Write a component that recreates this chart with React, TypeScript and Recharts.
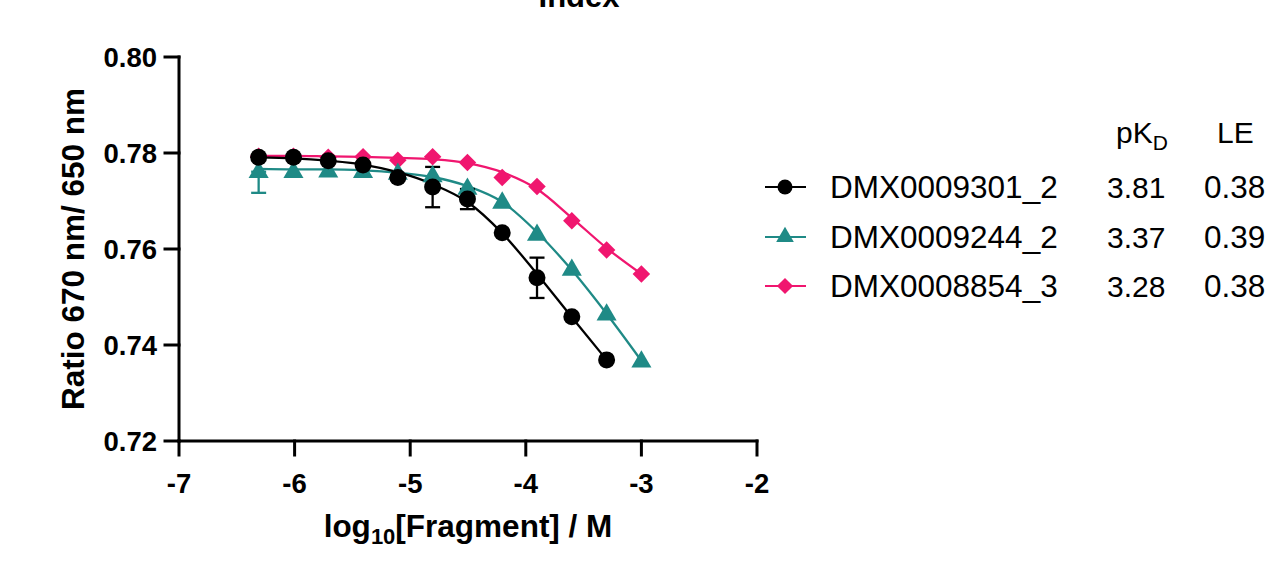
import React from 'react';
import { LineChart, Line, XAxis, YAxis, ErrorBar, Legend } from 'recharts';

// log10 of the fragment concentration (2-fold dilution from 1 mM)
const logConc = [-6.311, -6.01, -5.709, -5.408, -5.107, -4.806, -4.505, -4.204, -3.903, -3.602, -3.301, -3.0];

const seriesNames = ['DMX0009301_2', 'DMX0009244_2', 'DMX0008854_3'];
const pKdValues = ['3.81', '3.37', '3.28'];
const leValues = ['0.38', '0.39', '0.38'];

// measured points
const dmx9301 = [0.7791, 0.7791, 0.7784, 0.7775, 0.7749, 0.7729, 0.7704, 0.7634, 0.754, 0.7459, 0.7369, null];
const dmx9244 = [0.776, 0.776, 0.7761, 0.776, 0.7756, 0.7751, 0.7725, 0.7696, 0.7629, 0.7556, 0.7463, 0.7365];
const dmx8854 = [0.7793, 0.7793, 0.7791, 0.7792, 0.7785, 0.7792, 0.778, 0.7749, 0.773, 0.7659, 0.7598, 0.7548];

// error bars ([low, high] or single value)
const dmx9301Err = [null, null, null, null, null, 0.0042, 0.0021, null, 0.0042, null, null, null];
const dmx9244Err = [[0.0043, 0.0001], null, null, null, null, null, null, null, null, null, null, null];

// fitted curves
const dmx9301Fit = [0.7791, 0.7789, 0.7784, 0.7776, 0.776, 0.7735, 0.7698, 0.7633, 0.7548, 0.7458, 0.7369, null];
const dmx9244Fit = [0.7767, 0.7766, 0.7766, 0.7764, 0.7759, 0.775, 0.7731, 0.7698, 0.7635, 0.7556, 0.7465, 0.7367];
const dmx8854Fit = [0.7794, 0.7794, 0.7793, 0.7792, 0.779, 0.7787, 0.7779, 0.776, 0.7725, 0.7665, 0.7602, 0.7548];

const xTicks = [-7, -6, -5, -4, -3, -2];
const yTicks = [0.72, 0.74, 0.76, 0.78, 0.8];

const BLACK = '#000000';
const TEAL = '#1f8a86';
const PINK = '#f0166f';
const FONT = '"Liberation Sans", Arial, sans-serif';

const rows = logConc.map((x, i) => ({
  x,
  b: dmx9301[i],
  bErr: dmx9301Err[i],
  bFit: dmx9301Fit[i],
  t: dmx9244[i],
  tErr: dmx9244Err[i],
  tFit: dmx9244Fit[i],
  p: dmx8854[i],
  pFit: dmx8854Fit[i],
}));

const circleShape = (cx: number, cy: number, color: string, r = 8.5) => (
  <circle cx={cx} cy={cy} r={r} fill={color} />
);
const triangleShape = (cx: number, cy: number, color: string, s = 1.08) => (
  <polygon
    points={`${cx},${cy - 10.7 * s} ${cx + 9.3 * s},${cy + 5.3 * s} ${cx - 9.3 * s},${cy + 5.3 * s}`}
    fill={color}
  />
);
const diamondShape = (cx: number, cy: number, color: string, s = 1.03) => (
  <polygon
    points={`${cx},${cy - 8.5 * s} ${cx + 8.5 * s},${cy} ${cx},${cy + 8.5 * s} ${cx - 8.5 * s},${cy}`}
    fill={color}
  />
);

const makeDot = (kind: 'circle' | 'triangle' | 'diamond', color: string) => (props: any) => {
  const { cx, cy, index, value } = props;
  if (cx == null || cy == null || value == null || isNaN(cy)) return <g key={`d-${index}`} />;
  const shape =
    kind === 'circle' ? circleShape(cx, cy, color) : kind === 'triangle' ? triangleShape(cx, cy, color) : diamondShape(cx, cy, color);
  return <g key={`d-${index}`}>{shape}</g>;
};

const legendShapes = [
  (cx: number, cy: number) => circleShape(cx, cy, BLACK, 7.5),
  (cx: number, cy: number) => triangleShape(cx, cy, TEAL, 0.95),
  (cx: number, cy: number) => diamondShape(cx, cy, PINK, 0.95),
];
const legendColors = [BLACK, TEAL, PINK];

const LEG_LEFT = 740;
const LEG_TOP = 100;

function StatsLegend() {
  const rowY = [187, 237, 286];
  const ox = LEG_LEFT;
  const oy = LEG_TOP;
  return (
    <svg width={539} height={220} style={{ fontFamily: FONT, overflow: 'visible' }}>
      <text x={1116 - ox} y={143 - oy} fontSize={30} fill="#000">
        pK<tspan fontSize={21} dy={7}>D</tspan>
      </text>
      <text x={1217 - ox} y={143 - oy} fontSize={30} fill="#000">
        LE
      </text>
      {seriesNames.map((name, i) => {
        const cy = rowY[i] - oy;
        return (
          <g key={name}>
            <line x1={765 - ox} x2={806 - ox} y1={cy} y2={cy} stroke={legendColors[i]} strokeWidth={2} />
            {legendShapes[i](785 - ox, cy)}
            <text x={830 - ox} y={cy + 11} fontSize={31.5} fill="#000">
              {name}
            </text>
            <text x={1107 - ox} y={cy + 11} fontSize={30} fill="#000">
              {pKdValues[i]}
            </text>
            <text x={1204 - ox} y={cy + 11} fontSize={31.5} fill="#000">
              {leValues[i]}
            </text>
          </g>
        );
      })}
    </svg>
  );
}

const XTitle = (props: any) => {
  const { viewBox } = props;
  const cx = viewBox.x + viewBox.width / 2;
  return (
    <text x={cx} y={537} textAnchor="middle" fontSize={31.5} fontWeight="bold" fill="#000" fontFamily={FONT}>
      log<tspan fontSize={22} dy={7}>10</tspan>
      <tspan dy={-7}>[Fragment] / M</tspan>
    </text>
  );
};

const YTitle = (props: any) => {
  const { viewBox } = props;
  const cy = viewBox.y + viewBox.height / 2;
  return (
    <text
      x={84}
      y={cy}
      transform={`rotate(-90 84 ${cy})`}
      textAnchor="middle"
      fontSize={31.5}
      fontWeight="bold"
      fill="#000"
      fontFamily={FONT}
    >
      Ratio 670 nm/ 650 nm
    </text>
  );
};

export default function App() {
  const axisStyle = { stroke: '#000', strokeWidth: 3, strokeLinecap: 'square' as const };
  const tickStyle = { fontSize: 27.5, fontWeight: 'bold', fill: '#000', fontFamily: FONT };
  return (
    <div style={{ position: 'absolute', left: 0, top: 0, width: 1279, height: 585, background: '#fff', fontFamily: FONT }}>
      <svg width={1279} height={60} style={{ position: 'absolute', left: 0, top: 0, zIndex: 2, pointerEvents: 'none' }}>
        <text x={579} y={7} textAnchor="middle" fontSize={31} fontWeight="bold" fill="#000" fontFamily={FONT}>
          Index
        </text>
      </svg>
      <LineChart width={1279} height={585} data={rows} margin={{ top: 57, right: 522, bottom: 44, left: 0 }}>
        <XAxis
          dataKey="x"
          type="number"
          domain={[-7, -2]}
          ticks={xTicks}
          tickFormatter={(v) => String(v)}
          axisLine={axisStyle}
          tickLine={axisStyle}
          tickSize={14}
          tickMargin={18}
          tick={tickStyle}
          height={100}
          label={<XTitle />}
        />
        <YAxis
          type="number"
          domain={[0.72, 0.8]}
          ticks={yTicks}
          tickFormatter={(v) => v.toFixed(2)}
          axisLine={axisStyle}
          tickLine={axisStyle}
          tickSize={14}
          tickMargin={8}
          tick={tickStyle}
          width={179}
          label={<YTitle />}
        />
        <Line dataKey="pFit" stroke={PINK} strokeWidth={2.3} type="monotone" dot={false} activeDot={false} isAnimationActive={false} legendType="none" />
        <Line dataKey="tFit" stroke={TEAL} strokeWidth={2.3} type="monotone" dot={false} activeDot={false} isAnimationActive={false} legendType="none" />
        <Line dataKey="bFit" stroke={BLACK} strokeWidth={2.3} type="monotone" dot={false} activeDot={false} isAnimationActive={false} legendType="none" />
        <Line dataKey="p" stroke="none" dot={makeDot('diamond', PINK)} activeDot={false} isAnimationActive={false} name={seriesNames[2]} />
        <Line dataKey="t" stroke="none" dot={makeDot('triangle', TEAL)} activeDot={false} isAnimationActive={false} name={seriesNames[1]}>
          <ErrorBar dataKey="tErr" direction="y" width={7.5} stroke={TEAL} strokeWidth={2.3} isAnimationActive={false} />
        </Line>
        <Line dataKey="b" stroke="none" dot={makeDot('circle', BLACK)} activeDot={false} isAnimationActive={false} name={seriesNames[0]}>
          <ErrorBar dataKey="bErr" direction="y" width={7.5} stroke={BLACK} strokeWidth={2.3} isAnimationActive={false} />
        </Line>
        <Legend
          layout="vertical"
          align="center"
          verticalAlign="middle"
          wrapperStyle={{ left: LEG_LEFT, top: LEG_TOP, width: 539, height: 220 }}
          content={() => <StatsLegend />}
        />
      </LineChart>
    </div>
  );
}
